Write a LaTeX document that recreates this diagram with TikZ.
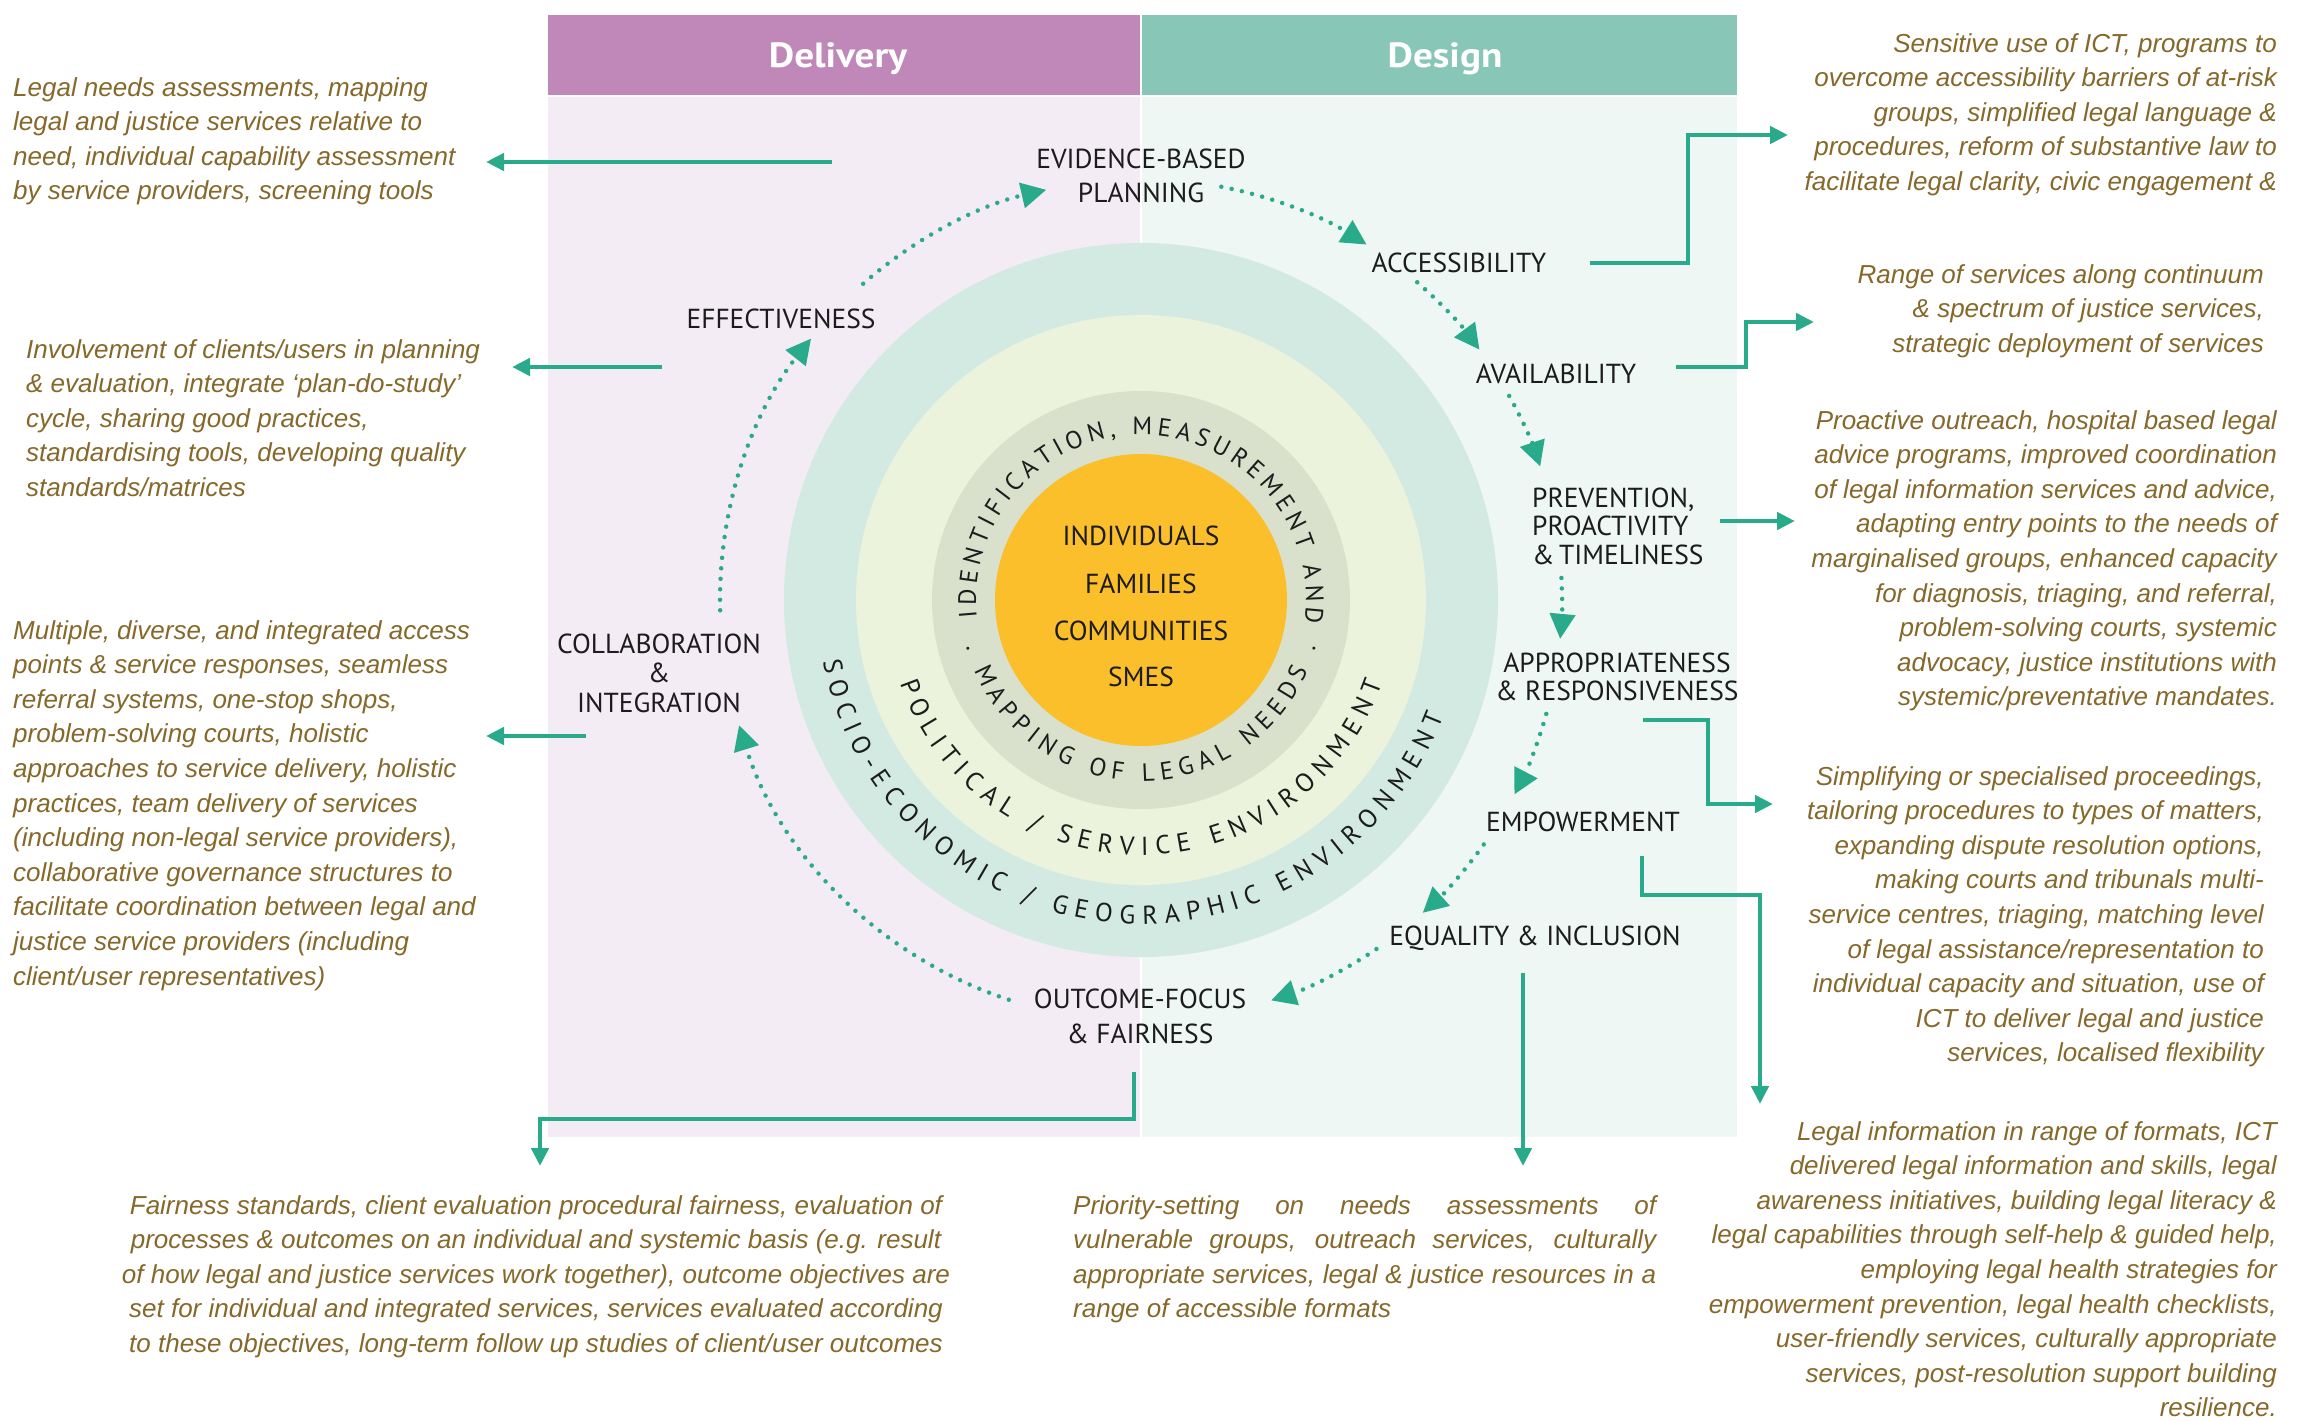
\documentclass[tikz,border=0pt]{standalone}
\usepackage{fontspec}
\setmainfont{Liberation Sans}
\newfontfamily\labfont{PT Sans}
\newfontfamily\hdrfont[FakeStretch=1.12]{PT Sans}
\usetikzlibrary{arrows.meta,decorations.text,calc}

\definecolor{delhdr}{HTML}{C088B8}
\definecolor{deshdr}{HTML}{88C6B7}
\definecolor{delbg}{HTML}{F4ECF5}
\definecolor{desbg}{HTML}{EEF7F3}
\definecolor{ringA}{HTML}{D3EAE2}
\definecolor{ringB}{HTML}{EBF3DC}
\definecolor{ringC}{HTML}{D9E0CB}
\definecolor{core}{HTML}{FBBF2C}
\definecolor{tealc}{HTML}{29AA8B}
\definecolor{olive}{HTML}{86692A}
\definecolor{ink}{HTML}{1C1C1C}

\newcommand\ringfontA{\labfont\fontsize{25}{25}\selectfont}
\newcommand\ringfontB{\labfont\fontsize{26}{26}\selectfont}

\begin{document}
\begin{tikzpicture}[x=1pt,y=-1pt,
  desc/.style={font=\fontsize{26}{34.6}\selectfont\itshape, text=olive, inner sep=0pt},
  lab/.style={font=\labfont\fontsize{27.5}{34}\selectfont, text=ink, inner sep=0pt, align=center},
  hdr/.style={font=\hdrfont\bfseries\fontsize{35}{35}\selectfont, text=white, inner sep=0pt},
  solidarrow/.style={draw=tealc, line width=4.5pt, -{Triangle[length=18pt,width=17pt]}},
  dotarrow/.style={draw=tealc, line width=4.5pt, line cap=round, dash pattern=on 0pt off 10.5pt, -{Triangle[length=25pt,width=25pt]}},
  ringtext/.style={decorate, decoration={text along path, text align={fit to path}, text color=ink, text={#1}}}
]
\useasboundingbox (0,0) rectangle (2308,1421);
\fill[white] (0,0) rectangle (2308,1421);

% panels
\fill[delbg] (548,96) rectangle (1141,1137);
\fill[desbg] (1141,96) rectangle (1737,1137);
\fill[delhdr] (548,15) rectangle (1141,96);
\fill[deshdr] (1141,15) rectangle (1737,96);
\draw[white, line width=1.5pt] (1141,15) -- (1141,1137);
\draw[white, line width=1.5pt] (548,96) -- (1737,96);
\node[hdr, anchor=base] (delt) at (838,68) {Delivery};
\node[hdr, anchor=base] (dest) at (1445,68) {Design};

% circles
\coordinate (C) at (1141,600);
\fill[ringA] (C) circle[radius=357];
\fill[ringB] (C) circle[radius=285];
\fill[ringC] (C) circle[radius=209];
\fill[core] (C) circle[radius=146];

% ring texts
\path[ringtext={|\ringfontA|IDENTIFICATION, MEASUREMENT AND}] ($(C)+(-186:165)$) arc[start angle=-186, end angle=8, radius=165];
\path[ringtext={|\ringfontA|. MAPPING OF LEGAL NEEDS .}] ($(C)+(-195:181)$) arc[start angle=-195, end angle=-345, radius=181];
\path[ringtext={|\ringfontB|POLITICAL / SERVICE ENVIRONMENT}] ($(C)+(-199:255)$) arc[start angle=-199, end angle=-341, radius=255];
\path[ringtext={|\ringfontB|SOCIO-ECONOMIC / GEOGRAPHIC ENVIRONMENT}] ($(C)+(-191:324)$) arc[start angle=-191, end angle=-339, radius=324];

% centre
\node[lab, anchor=base] (ind) at (1141,545) {INDIVIDUALS};
\node[lab, anchor=base] (fam) at (1141,593) {FAMILIES};
\node[lab, anchor=base] (com) at (1141,640) {COMMUNITIES};
\node[lab, anchor=base] (sme) at (1141,686) {SMES};

% labels (base anchor = last line baseline)
\node[lab, anchor=base] (ebp) at (1141,202) {EVIDENCE-BASED\\PLANNING};
\node[lab, anchor=base] (acc) at (1459,272) {ACCESSIBILITY};
\node[lab, anchor=base] (ava) at (1556,383) {AVAILABILITY};
\node[lab, anchor=base west, align=left, font=\labfont\fontsize{27.5}{28.5}\selectfont] (prev) at (1532,564) {PREVENTION,\\PROACTIVITY\\\&\,TIMELINESS};
\node[lab, anchor=base, font=\labfont\fontsize{27.5}{28}\selectfont] (app) at (1617,700) {APPROPRIATENESS\\\& RESPONSIVENESS};
\node[lab, anchor=base] (emp) at (1583,831) {EMPOWERMENT};
\node[lab, anchor=base] (equ) at (1535,945) {EQUALITY \& INCLUSION};
\node[lab, anchor=base, font=\labfont\fontsize{27.5}{35}\selectfont] (out) at (1140,1043) {OUTCOME-FOCUS\\\& FAIRNESS};
\node[lab, anchor=base, font=\labfont\fontsize{27.5}{29.5}\selectfont] (col) at (659,712) {COLLABORATION\\\&\\INTEGRATION};
\node[lab, anchor=base] (eff) at (781,328) {EFFECTIVENESS};

% dotted cycle arrows
\foreach \n/\a/\b in {1/-79/-57.6, 2/-49/-36.5, 3/-29/-18.5, 4/-3/5.3, 5/15.7/27.5, 6/35.5/48, 7/56/72, 8/108.3/162.7, 9/178.6/218.4, 10/228.7/257}{
  \coordinate (d\n) at ($(C)+(\a:421)$);
  \draw[dotarrow] (d\n) arc[start angle=\a, end angle=\b, radius=421];
}

% descriptions (base anchor = last line baseline)
\node[desc, anchor=base west, align=left] (t1) at (13,199.8) {Legal needs assessments, mapping\\legal and justice services relative to\\need, individual capability assessment\\by service providers, screening tools};
\node[desc, anchor=base west, align=left] (t2) at (26,496.4) {Involvement of clients/users in planning\\\& evaluation, integrate ‘plan-do-study’\\cycle, sharing good practices,\\standardising tools, developing quality\\standards/matrices};
\node[desc, anchor=base west, align=left] (t3) at (13,985) {Multiple, diverse, and integrated access\\points \& service responses, seamless\\referral systems, one-stop shops,\\problem-solving courts, holistic\\approaches to service delivery, holistic\\practices, team delivery of services\\(including non-legal service providers),\\collaborative governance structures to\\facilitate coordination between legal and\\justice service providers (including\\client/user representatives)};
\node[desc, anchor=base east, align=right] (t4) at (2277,190.4) {Sensitive use of ICT, programs to\\overcome accessibility barriers of at-risk\\groups, simplified legal language \&\\procedures, reform of substantive law to\\facilitate legal clarity, civic engagement \&};
\node[desc, anchor=base east, align=right] (t5) at (2264,352.2) {Range of services along continuum\\\& spectrum of justice services,\\strategic deployment of services};
\node[desc, anchor=base east, align=right] (t6) at (2277,705.8) {Proactive outreach, hospital based legal\\advice programs, improved coordination\\of legal information services and advice,\\adapting entry points to the needs of\\marginalised groups, enhanced capacity\\for diagnosis, triaging, and referral,\\problem-solving courts, systemic\\advocacy, justice institutions with\\systemic/preventative mandates.};
\node[desc, anchor=base east, align=right] (t7) at (2264,1061.8) {Simplifying or specialised proceedings,\\tailoring procedures to types of matters,\\expanding dispute resolution options,\\making courts and tribunals multi-\\service centres, triaging, matching level\\of legal assistance/representation to\\individual capacity and situation, use of\\ICT to deliver legal and justice\\services, localised flexibility};
\node[desc, anchor=base east, align=right] (t8) at (2277,1416.8) {Legal information in range of formats, ICT\\delivered legal information and skills, legal\\awareness initiatives, building legal literacy \&\\legal capabilities through self-help \& guided help,\\employing legal health strategies for\\empowerment prevention, legal health checklists,\\user-friendly services, culturally appropriate\\services, post-resolution support building\\resilience.};
\node[desc, anchor=base, align=center] (t9) at (536,1352.4) {Fairness standards, client evaluation procedural fairness, evaluation of\\processes \& outcomes on an individual and systemic basis (e.g. result\\of how legal and justice services work together), outcome objectives are\\set for individual and integrated services, services evaluated according\\to these objectives, long-term follow up studies of client/user outcomes};
\node[desc, anchor=base west, text width=583pt, align=justify] (t10) at (1073,1214) {Priority-setting on needs assessments of\linebreak vulnerable groups, outreach services, culturally\linebreak appropriate services, legal \& justice resources in a\linebreak range of accessible formats};

% solid connectors
\coordinate (a1s) at (832,162); \coordinate (a1e) at (486,162);
\draw[solidarrow] (a1s) -- (a1e);
\coordinate (a2s) at (662,367); \coordinate (a2e) at (512,367);
\draw[solidarrow] (a2s) -- (a2e);
\coordinate (a3s) at (586,736); \coordinate (a3e) at (486,736);
\draw[solidarrow] (a3s) -- (a3e);
\coordinate (a4s) at (1590,263); \coordinate (a4e) at (1788,135);
\draw[solidarrow] (a4s) -- (1688,263) -- (1688,135) -- (a4e);
\coordinate (a5s) at (1676,367); \coordinate (a5e) at (1814,322);
\draw[solidarrow] (a5s) -- (1746,367) -- (1746,322) -- (a5e);
\coordinate (a6s) at (1720,521); \coordinate (a6e) at (1795,521);
\draw[solidarrow] (a6s) -- (a6e);
\coordinate (a7s) at (1643,720); \coordinate (a7e) at (1773,804);
\draw[solidarrow] (a7s) -- (1708,720) -- (1708,804) -- (a7e);
\coordinate (a8s) at (1642,856); \coordinate (a8e) at (1760,1104);
\draw[solidarrow] (a8s) -- (1642,895) -- (1760,895) -- (a8e);
\coordinate (a9s) at (1523,973); \coordinate (a9e) at (1523,1166);
\draw[solidarrow] (a9s) -- (a9e);
\coordinate (a10s) at (1134,1072); \coordinate (a10e) at (540,1166);
\draw[solidarrow] (a10s) -- (1134,1119) -- (540,1119) -- (a10e);
\end{tikzpicture}
\end{document}
